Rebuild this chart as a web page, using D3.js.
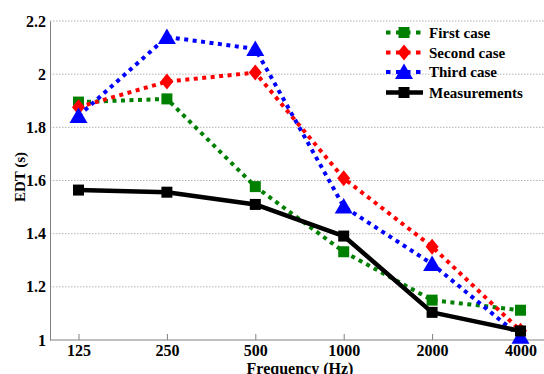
<!DOCTYPE html>
<html><head><meta charset="utf-8">
<script src="https://cdn.jsdelivr.net/npm/d3@7"></script>
<style>
body{margin:0;background:#fff;}
svg{display:block;}
</style></head>
<body><svg id="c" width="544" height="374"></svg>
<script>
const categories = ["125","250","500","1000","2000","4000"];
const yTicks = [1,1.2,1.4,1.6,1.8,2,2.2];
const yTickLabels = ["1","1.2","1.4","1.6","1.8","2","2.2"];
const firstCase = [1.895,1.907,1.577,1.332,1.150,1.112];
const secondCase = [1.876,1.972,2.006,1.608,1.351,1.035];
const thirdCase = [1.843,2.140,2.095,1.502,1.286,1.012];
const measurements = [1.564,1.556,1.510,1.391,1.104,1.034];
const seriesNames = ["First case","Second case","Third case","Measurements"];
const seriesColors = ["#008000","#ff0000","#0000ff","#000000"];
const seriesMarkers = ["square","diamond","triangle","square"];

const FONT = "'Liberation Serif', Tinos, 'Times New Roman', Times, serif";

const series = [firstCase, secondCase, thirdCase, measurements].map((v,i)=>({
  name: seriesNames[i], values: v, color: seriesColors[i], marker: seriesMarkers[i], dotted: i<3
}));

const svg = d3.select("#c");
const L=50, T=21, R=550, B=340;
const x = d3.scalePoint().domain(categories).range([78.5, 520.5]);
const y = d3.scaleLinear().domain([1,2.2]).range([B,T]);

// grid
svg.append("g").selectAll("line").data(yTicks.slice(1)).join("line")
  .attr("x1",L).attr("x2",R).attr("y1",d=>y(d)).attr("y2",d=>y(d))
  .attr("stroke","#a0a0a0").attr("stroke-width",0.8).attr("stroke-dasharray","1.5,1.5");

// axes
const xa = svg.append("g").attr("transform",`translate(0,${B})`)
  .call(d3.axisBottom(x).tickSizeInner(-6).tickSizeOuter(0).tickPadding(5));
xa.attr("font-family",FONT).attr("font-weight","bold");
xa.select(".domain").attr("stroke","#808080").attr("d",`M${L},0H${R}`);
xa.selectAll(".tick line").attr("stroke","#808080");
xa.selectAll(".tick text").attr("font-size",16).attr("fill","#000");

const ya = svg.append("g").attr("transform",`translate(${L},0)`)
  .call(d3.axisLeft(y).tickValues(yTicks).tickFormat((d,i)=>yTickLabels[i]).tickSize(0).tickPadding(4));
ya.attr("font-family",FONT).attr("font-weight","bold");
ya.select(".domain").attr("stroke","#808080");
ya.selectAll(".tick text").attr("font-size",16).attr("fill","#000");

// labels
svg.append("text").attr("x",300).attr("y",374).attr("text-anchor","middle")
  .attr("font-family",FONT).attr("font-weight","bold")
  .attr("font-size",16).text("Frequency (Hz)");
svg.append("text").attr("transform","translate(25,177) rotate(-90)").attr("text-anchor","middle")
  .attr("font-family",FONT).attr("font-weight","bold")
  .attr("font-size",15).text("EDT (s)");

function drawMarker(g, type, cx, cy, color){
  if(type==="square"){
    g.append("rect").attr("x",cx-5.5).attr("y",cy-5.5).attr("width",11).attr("height",11).attr("fill",color);
  } else if(type==="diamond"){
    g.append("path").attr("d",`M${cx},${cy-8}L${cx+6.5},${cy}L${cx},${cy+8}L${cx-6.5},${cy}Z`).attr("fill",color);
  } else {
    g.append("path").attr("d",`M${cx},${cy-8.5}L${cx+9},${cy+7}L${cx-9},${cy+7}Z`).attr("fill",color);
  }
}

const line = d3.line().x((d,i)=>x(categories[i])).y(d=>y(d));
series.forEach(s=>{
  const g = svg.append("g");
  g.append("path").attr("d",line(s.values)).attr("fill","none").attr("stroke",s.color)
    .attr("stroke-width",s.dotted?4:4.5).attr("stroke-dasharray",s.dotted?"4,4.5":null)
    .attr("stroke-linejoin","round");
  s.values.forEach((v,i)=>drawMarker(g,s.marker,x(categories[i]),y(v),s.color));
});

// legend
const lg = svg.append("g");
const rowY = [32.5,52.5,72,92.5];
series.forEach((s,i)=>{
  const yy = rowY[i];
  const g = lg.append("g");
  if(s.dotted){
    g.append("line").attr("x1",386).attr("x2",422).attr("y1",yy).attr("y2",yy)
      .attr("stroke",s.color).attr("stroke-width",4).attr("stroke-dasharray","4.5,5.5");
  } else {
    g.append("line").attr("x1",386).attr("x2",423).attr("y1",yy).attr("y2",yy)
      .attr("stroke",s.color).attr("stroke-width",4.5);
  }
  drawMarker(g,s.marker,404,yy,s.color);
  g.append("text").attr("x",429).attr("y",yy+5).attr("font-size",15)
    .attr("font-family",FONT).attr("font-weight","bold").text(s.name);
});
</script></body></html>
